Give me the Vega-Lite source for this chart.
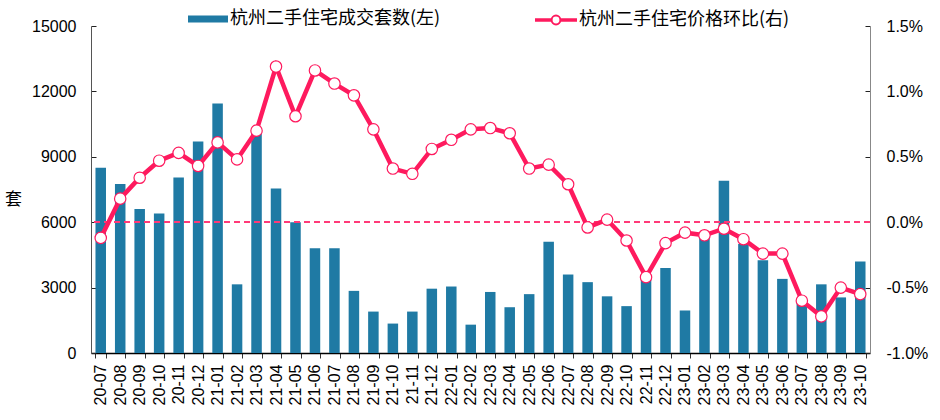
{
  "$schema": "https://vega.github.io/schema/vega-lite/v6.json",
  "width": 779,
  "height": 327,
  "autosize": {"type": "none"},
  "padding": {"left": 91, "top": 26, "right": 70, "bottom": 67},
  "background": "white",
  "config": {"view": {"stroke": null}, "font": "Liberation Sans", "axis": {"grid": false}},
  "data": {"values": [
    {"month": "20-07", "volume": 8500, "mom": -0.12},
    {"month": "20-08", "volume": 7750, "mom": 0.18},
    {"month": "20-09", "volume": 6600, "mom": 0.34},
    {"month": "20-10", "volume": 6400, "mom": 0.47},
    {"month": "20-11", "volume": 8050, "mom": 0.53},
    {"month": "20-12", "volume": 9700, "mom": 0.43},
    {"month": "21-01", "volume": 11450, "mom": 0.61},
    {"month": "21-02", "volume": 3150, "mom": 0.48},
    {"month": "21-03", "volume": 10100, "mom": 0.70},
    {"month": "21-04", "volume": 7550, "mom": 1.19},
    {"month": "21-05", "volume": 6000, "mom": 0.81},
    {"month": "21-06", "volume": 4800, "mom": 1.16},
    {"month": "21-07", "volume": 4800, "mom": 1.06},
    {"month": "21-08", "volume": 2850, "mom": 0.97},
    {"month": "21-09", "volume": 1900, "mom": 0.71},
    {"month": "21-10", "volume": 1350, "mom": 0.41},
    {"month": "21-11", "volume": 1900, "mom": 0.37},
    {"month": "21-12", "volume": 2950, "mom": 0.56},
    {"month": "22-01", "volume": 3050, "mom": 0.63},
    {"month": "22-02", "volume": 1300, "mom": 0.71},
    {"month": "22-03", "volume": 2800, "mom": 0.72},
    {"month": "22-04", "volume": 2100, "mom": 0.68},
    {"month": "22-05", "volume": 2700, "mom": 0.41},
    {"month": "22-06", "volume": 5100, "mom": 0.44},
    {"month": "22-07", "volume": 3600, "mom": 0.29},
    {"month": "22-08", "volume": 3250, "mom": -0.04},
    {"month": "22-09", "volume": 2600, "mom": 0.02},
    {"month": "22-10", "volume": 2150, "mom": -0.14},
    {"month": "22-11", "volume": 3350, "mom": -0.42},
    {"month": "22-12", "volume": 3900, "mom": -0.16},
    {"month": "23-01", "volume": 1950, "mom": -0.08},
    {"month": "23-02", "volume": 5350, "mom": -0.10},
    {"month": "23-03", "volume": 7900, "mom": -0.05},
    {"month": "23-04", "volume": 5000, "mom": -0.13},
    {"month": "23-05", "volume": 4250, "mom": -0.24},
    {"month": "23-06", "volume": 3400, "mom": -0.24},
    {"month": "23-07", "volume": 2350, "mom": -0.60},
    {"month": "23-08", "volume": 3150, "mom": -0.72},
    {"month": "23-09", "volume": 2550, "mom": -0.50},
    {"month": "23-10", "volume": 4200, "mom": -0.55}
  ]},
  "layer": [
    {
      "mark": {"type": "bar"},
      "encoding": {
        "x": {
          "field": "month", "type": "ordinal", "sort": null,
          "scale": {"paddingInner": 0.46, "paddingOuter": 0.23},
          "axis": {
            "title": null, "labelAngle": -90, "labelFontSize": 16, "labelColor": "black",
            "labelPadding": 6, "tickBand": "extent", "tickSize": 5, "tickColor": "#333",
            "domainColor": "black", "domainWidth": 1.5
          }
        },
        "y": {
          "field": "volume", "type": "quantitative",
          "scale": {"domain": [0, 15000], "nice": false},
          "axis": {
            "orient": "left", "values": [0, 3000, 6000, 9000, 12000, 15000], "format": "d",
            "title": "套", "titleAngle": 0.001, "titleX": -78, "titleY": 174,
            "titleAlign": "center", "titleBaseline": "middle",
            "titleFontSize": 17, "titleFontWeight": "normal", "titleFont": "Noto Sans CJK SC", "titleColor": "black",
            "labelFontSize": 16, "labelColor": "black", "labelPadding": 20,
            "tickSize": -5, "tickColor": "#222", "domainColor": "#555"
          }
        },
        "fill": {
          "datum": "杭州二手住宅成交套数(左)",
          "scale": {"range": ["#1f7aa4"]},
          "legend": {
            "orient": "none", "legendX": 97, "legendY": -27, "title": null, "padding": 0,
            "symbolType": "M-1,-0.17H1V0.17H-1Z", "symbolSize": 1600, "symbolStrokeWidth": 0,
            "labelFontSize": 18, "labelFont": "Noto Sans CJK SC", "labelColor": "black", "labelOffset": 2, "labelLimit": 0
          }
        }
      }
    },
    {
      "layer": [
        {
          "mark": {"type": "rule", "stroke": "#ff3a78", "strokeWidth": 1.5, "strokeDash": [6, 4]},
          "encoding": {"y": {"datum": 0, "type": "quantitative"}}
        },
        {
          "mark": {"type": "line", "strokeWidth": 4.5},
          "encoding": {
            "x": {"field": "month", "type": "ordinal", "sort": null},
            "y": {"field": "mom", "type": "quantitative"},
            "stroke": {
              "datum": "杭州二手住宅价格环比(右)",
              "scale": {"range": ["#fe1a5e"]},
              "legend": {
                "orient": "none", "legendX": 444, "legendY": -27, "title": null, "padding": 0,
                "symbolType": "M-1,-0.04H-0.22V0.04H-1Z M0.22,-0.04H1V0.04H0.22Z M0.22,0A0.22,0.22 0 1 1 -0.22,0A0.22,0.22 0 1 1 0.22,0Z",
                "symbolSize": 1600, "symbolStrokeWidth": 2, "symbolFillColor": "white",
                "labelFontSize": 18, "labelFont": "Noto Sans CJK SC", "labelColor": "black", "labelOffset": 2, "labelLimit": 0
              }
            }
          }
        },
        {
          "mark": {"type": "circle", "fill": "white", "stroke": "#fe1a5e", "strokeWidth": 1.2, "size": 130, "opacity": 1},
          "encoding": {
            "x": {"field": "month", "type": "ordinal", "sort": null},
            "y": {"field": "mom", "type": "quantitative"}
          }
        }
      ],
      "encoding": {
        "y": {
          "type": "quantitative",
          "scale": {"domain": [-1, 1.5], "nice": false, "zero": false},
          "axis": {
            "orient": "right", "values": [-1, -0.5, 0, 0.5, 1, 1.5], "title": null,
            "labelExpr": "replace(format(datum.value, '.1f'), '−', '-') + '%'",
            "labelFontSize": 16, "labelColor": "black", "labelPadding": 21,
            "tickSize": -5, "tickColor": "#222", "domainColor": "#888"
          }
        }
      }
    }
  ],
  "resolve": {"scale": {"y": "independent"}}
}
